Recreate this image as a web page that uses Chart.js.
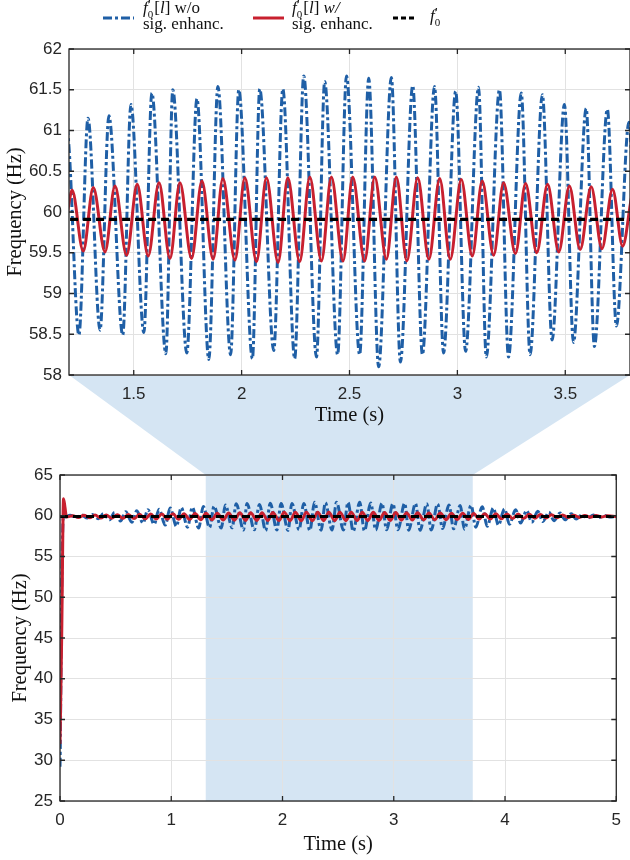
<!DOCTYPE html>
<html><head><meta charset="utf-8">
<script src="https://cdn.jsdelivr.net/npm/chart.js@4.4.1/dist/chart.umd.min.js"></script>
<style>
html,body{margin:0;padding:0;background:#fff;}
#page{position:relative;width:630px;height:860px;overflow:hidden;background:#fff;}
#bg{position:absolute;left:0;top:0;}
#topC{position:absolute;left:0;top:0;}
#botC{position:absolute;left:0;top:440px;}
.lg{position:absolute;font-family:"Liberation Serif",serif;font-size:17px;color:#111;line-height:16px;white-space:nowrap;}
.ss{display:inline-block;vertical-align:-5px;font-size:11px;line-height:8px;margin:0 1px 0 0;}
.ss span{display:block;}
.ss .pr{font-size:14px;line-height:9px;}
svg{position:absolute;}
</style></head>
<body><div id="page">
<canvas id="bg" width="630" height="860"></canvas>
<canvas id="topC" width="630" height="440"></canvas>
<canvas id="botC" width="630" height="420"></canvas>

<svg style="left:103px;top:12px" width="31" height="12"><line x1="0" y1="6" x2="31" y2="6" stroke="#1f5fa6" stroke-width="3" stroke-dasharray="9,3,3,3"/></svg>
<div class="lg" style="left:143px;top:0px"><i>f</i><span class="ss"><span class="pr">′</span><span>0</span></span>[<i>l</i>] w/o</div>
<div class="lg" style="left:143px;top:16px">sig. enhanc.</div>

<svg style="left:253px;top:12px" width="31" height="12"><line x1="0" y1="6" x2="31" y2="6" stroke="#c8202f" stroke-width="3"/></svg>
<div class="lg" style="left:292px;top:0px"><i>f</i><span class="ss"><span class="pr">′</span><span>0</span></span>[<i>l</i>] <i>w/</i></div>
<div class="lg" style="left:292px;top:16px">sig. enhanc.</div>

<svg style="left:393px;top:12px" width="22" height="12"><line x1="0" y1="6" x2="22" y2="6" stroke="#000" stroke-width="3" stroke-dasharray="5,3"/></svg>
<div class="lg" style="left:430px;top:8px"><i>f</i><span class="ss"><span class="pr">′</span><span>0</span></span></div>
</div>
<script>
// ---- data (time in s, frequency in Hz) ----
const blueT = [0, 0.002, 0.015, 0.03, 0.046, 0.09, 0.146, 0.19, 0.246, 0.29, 0.346, 0.39, 0.446, 0.49, 0.546, 0.59, 0.646, 0.69, 0.746, 0.79, 0.846, 0.89, 0.946, 0.99, 1.046, 1.09, 1.146, 1.19,
 1.2, 1.246, 1.288, 1.344, 1.385, 1.449, 1.487, 1.547, 1.584, 1.649, 1.681, 1.746, 1.793, 1.848, 1.89, 1.949, 1.987, 2.05, 2.084, 2.149, 2.191, 2.246, 2.288, 2.347, 2.385, 2.445, 2.486, 2.547, 2.589, 2.635, 2.694, 2.736, 2.793, 2.838, 2.894, 2.936, 2.992, 3.038, 3.098, 3.134, 3.195, 3.237, 3.296, 3.337, 3.394, 3.439, 3.496, 3.538, 3.597, 3.635, 3.695, 3.737, 3.795,
 3.84, 3.895, 3.94, 3.995, 4.04, 4.095, 4.14, 4.195, 4.24, 4.295, 4.34, 4.395, 4.44, 4.495, 4.54, 4.595, 4.64, 4.695, 4.74, 4.795, 4.84, 4.895, 4.94, 5.0];
const blueF = [29.2, 31.0, 50.5, 59.9, 59.85, 60.05, 59.8, 60.1, 59.72, 60.15, 59.62, 60.25, 59.5, 60.4, 59.35, 60.5, 59.2, 60.6, 59.1, 60.75, 58.95, 60.8, 58.85, 60.95, 58.7, 61.0, 58.6, 61.05,
 60.8, 58.49, 61.15, 58.55, 61.18, 58.49, 61.32, 58.52, 61.46, 58.26, 61.50, 58.27, 61.39, 58.19, 61.54, 58.25, 61.50, 58.20, 61.51, 58.30, 61.51, 58.20, 61.67, 58.22, 61.60, 58.25, 61.67, 58.25, 61.64, 58.10, 61.65, 58.16, 61.55, 58.25, 61.54, 58.27, 61.48, 58.29, 61.53, 58.22, 61.50, 58.22, 61.46, 58.25, 61.44, 58.43, 61.32, 58.40, 61.27, 58.35, 61.26, 58.60, 61.1,
 58.7, 60.95, 58.85, 60.85, 58.95, 60.75, 59.1, 60.65, 59.2, 60.55, 59.3, 60.45, 59.4, 60.35, 59.5, 60.25, 59.6, 60.15, 59.7, 60.08, 59.78, 60.02, 59.85, 59.93];

const redT = [0, 0.015, 0.032, 0.045, 0.058, 0.115, 0.166, 0.215, 0.266, 0.315, 0.366, 0.415, 0.466, 0.515, 0.566, 0.615, 0.666, 0.715, 0.766, 0.815, 0.866, 0.915, 0.966, 1.015, 1.066, 1.115, 1.166, 1.2,
 1.214, 1.266, 1.3125, 1.367, 1.413, 1.467, 1.516, 1.567, 1.617, 1.668, 1.714, 1.768, 1.816, 1.868, 1.913, 1.969, 2.015, 2.069, 2.115, 2.169, 2.214, 2.269, 2.316, 2.37, 2.416, 2.47, 2.515, 2.57, 2.617, 2.671, 2.717, 2.766, 2.816, 2.868, 2.918, 2.967, 3.018, 3.069, 3.115, 3.168, 3.214, 3.269, 3.316, 3.368, 3.418, 3.47, 3.519, 3.569, 3.62, 3.67, 3.719, 3.766,
 3.818, 3.868, 3.918, 3.968, 4.018, 4.068, 4.118, 4.168, 4.218, 4.268, 4.318, 4.368, 4.418, 4.468, 4.518, 4.568, 4.618, 4.668, 4.718, 4.768, 4.818, 4.868, 4.918, 5.0];
const redF = [32.0, 45.0, 62.1, 61.0, 59.85, 60.0, 59.8, 60.05, 59.75, 60.08, 59.72, 60.1, 59.7, 60.12, 59.68, 60.15, 59.65, 60.17, 59.62, 60.2, 59.6, 60.22, 59.58, 60.24, 59.56, 60.25, 59.54, 60.11,
 60.27, 59.52, 60.30, 59.51, 60.32, 59.47, 60.34, 59.46, 60.36, 59.43, 60.36, 59.43, 60.38, 59.42, 60.41, 59.41, 60.42, 59.39, 60.42, 59.38, 60.42, 59.39, 60.43, 59.40, 60.43, 59.40, 60.43, 59.40, 60.43, 59.42, 60.43, 59.40, 60.42, 59.42, 60.41, 59.42, 60.40, 59.46, 60.38, 59.47, 60.36, 59.49, 60.35, 59.50, 60.34, 59.51, 60.32, 59.54, 60.31, 59.55, 60.28, 59.58,
 60.26, 59.6, 60.24, 59.62, 60.22, 59.65, 60.2, 59.68, 60.17, 59.7, 60.15, 59.73, 60.12, 59.76, 60.1, 59.78, 60.07, 59.8, 60.04, 59.83, 60.02, 59.86, 60.0, 59.92];

const refT = [0, 5];
const refF = [59.91, 59.91];

const zoomRange = [1.2, 3.8];
const shadeRange = [1.31, 3.71];
const topXTicks = [1.5, 2, 2.5, 3, 3.5];
const topYTicks = [58, 58.5, 59, 59.5, 60, 60.5, 61, 61.5, 62];
const botXTicks = [0, 1, 2, 3, 4, 5];
const botYTicks = [25, 30, 35, 40, 45, 50, 55, 60, 65];

// ---- helpers ----
const pts = (t, f) => t.map((v, i) => ({x: v, y: f[i]}));
const tickFont = {family: '"Liberation Sans", Arial, sans-serif', size: 17};
const titleFont = {family: '"Liberation Serif", "Times New Roman", serif', size: 20.5};
const TXT = '#262626';
const GRID = '#e2e2e2';
const SHADE = '#d5e5f3';

function datasets() {
  return [
    {label: 'ref', data: pts(refT, refF), borderColor: '#000', borderWidth: 3.2, borderDash: [8, 5], pointRadius: 0, order: 0},
    {label: 'with', data: pts(redT, redF), borderColor: '#c8202f', borderWidth: 3, pointRadius: 0, cubicInterpolationMode: 'monotone', order: 1},
    {label: 'without', data: pts(blueT, blueF), borderColor: '#1f5fa6', borderWidth: 3, borderDash: [9, 3, 3, 3], pointRadius: 0, cubicInterpolationMode: 'monotone', order: 2}
  ];
}

const boxPlugin = {
  id: 'box',
  afterDatasetsDraw(chart) {
    const {ctx, chartArea: a, scales: {x, y}} = chart;
    ctx.save();
    ctx.strokeStyle = TXT;
    ctx.lineWidth = 1.3;
    ctx.strokeRect(a.left, a.top, a.right - a.left, a.bottom - a.top);
    ctx.beginPath();
    const L = 5;
    x.ticks.forEach(t => {
      const px = x.getPixelForValue(t.value);
      ctx.moveTo(px, a.bottom); ctx.lineTo(px, a.bottom - L);
      ctx.moveTo(px, a.top); ctx.lineTo(px, a.top + L);
    });
    y.ticks.forEach(t => {
      const py = y.getPixelForValue(t.value);
      ctx.moveTo(a.left, py); ctx.lineTo(a.left + L, py);
      ctx.moveTo(a.right, py); ctx.lineTo(a.right - L, py);
    });
    ctx.stroke();
    ctx.restore();
  }
};

const shadePlugin = {
  id: 'shade',
  beforeDraw(chart) {
    const {ctx, chartArea: a, scales: {x}} = chart;
    const x0 = x.getPixelForValue(shadeRange[0]);
    const x1 = x.getPixelForValue(shadeRange[1]);
    ctx.save();
    ctx.fillStyle = SHADE;
    ctx.fillRect(x0, a.top, x1 - x0, a.bottom - a.top);
    ctx.restore();
  }
};

function makeOptions(cfg) {
  return {
    responsive: false, animation: false, events: [],
    layout: {padding: cfg.pad},
    plugins: {legend: {display: false}, tooltip: {enabled: false}},
    scales: {
      x: {
        type: 'linear', min: cfg.xmin, max: cfg.xmax,
        afterBuildTicks: s => { s.ticks = cfg.xt.map(v => ({value: v})); },
        afterFit: s => { s.height = cfg.xh; },
        ticks: {padding: 9, font: tickFont, color: TXT, maxRotation: 0, autoSkip: false, callback: v => String(v)},
        grid: {color: GRID, lineWidth: 1, drawTicks: false},
        border: {display: false},
        title: {display: true, text: 'Time (s)', font: titleFont, color: '#111', padding: {top: 0, bottom: cfg.xtp}}
      },
      y: {
        type: 'linear', min: cfg.ymin, max: cfg.ymax,
        afterBuildTicks: s => { s.ticks = cfg.yt.map(v => ({value: v})); },
        afterFit: s => { s.width = cfg.yw; },
        ticks: {padding: 7, font: tickFont, color: TXT, autoSkip: false, callback: v => String(v)},
        grid: {color: GRID, lineWidth: 1, drawTicks: false},
        border: {display: false},
        title: {display: true, text: 'Frequency (Hz)', font: titleFont, color: '#111', padding: {top: cfg.ytp, bottom: 0}}
      }
    }
  };
}

const topChart = new Chart(document.getElementById('topC'), {
  type: 'line',
  data: {datasets: datasets()},
  options: makeOptions({pad: {left: 0, top: 49, right: 0, bottom: 0}, xmin: zoomRange[0], xmax: zoomRange[1], ymin: 58, ymax: 62,
    xt: topXTicks, yt: topYTicks, xh: 65, yw: 69, xtp: 12, ytp: 3}),
  plugins: [boxPlugin]
});

const botChart = new Chart(document.getElementById('botC'), {
  type: 'line',
  data: {datasets: datasets()},
  options: makeOptions({pad: {left: 0, top: 35, right: 7, bottom: 0}, xmin: 0, xmax: 5, ymin: 25, ymax: 65,
    xt: botXTicks, yt: botYTicks, xh: 59, yw: 60, xtp: 3, ytp: 8}),
  plugins: [shadePlugin, boxPlugin]
});

// connector between the zoomed axis and the shaded span
(function drawConnector() {
  const bg = document.getElementById('bg').getContext('2d');
  const tx = topChart.scales.x, bx = botChart.scales.x;
  const topOff = 0, botOff = 440;
  const yTop = topChart.chartArea.bottom + topOff;
  const yBot = botChart.chartArea.top + botOff;
  bg.fillStyle = SHADE;
  bg.beginPath();
  bg.moveTo(tx.getPixelForValue(zoomRange[0]), yTop);
  bg.lineTo(tx.getPixelForValue(zoomRange[1]), yTop);
  bg.lineTo(bx.getPixelForValue(shadeRange[1]), yBot);
  bg.lineTo(bx.getPixelForValue(shadeRange[0]), yBot);
  bg.closePath();
  bg.fill();
})();
</script>
</body></html>
